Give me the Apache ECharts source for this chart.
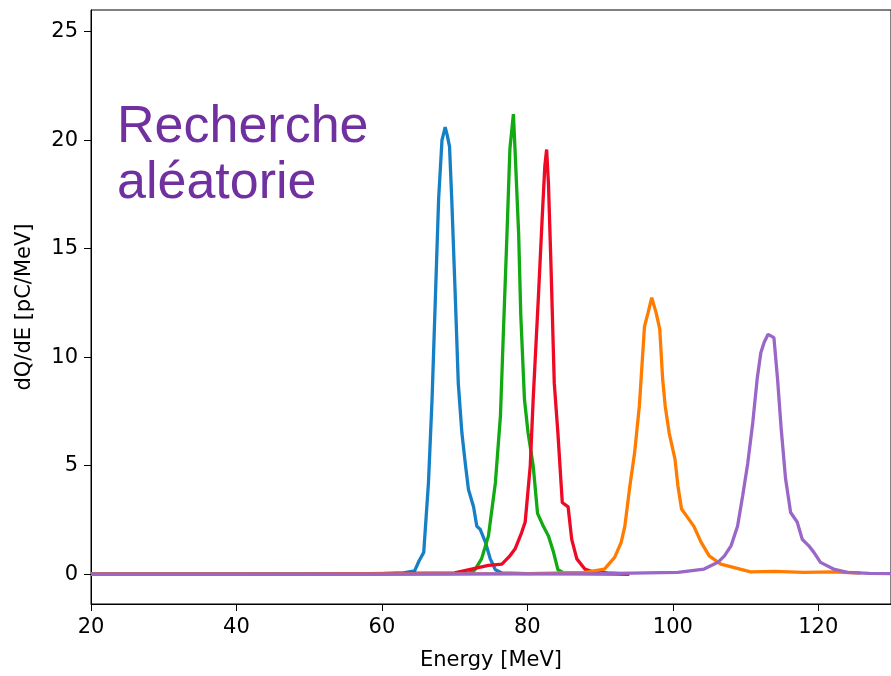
<!DOCTYPE html>
<html>
<head>
<meta charset="utf-8">
<script src="https://cdn.jsdelivr.net/npm/echarts@6/dist/echarts.min.js"></script>
<style>
  html, body { margin: 0; padding: 0; background: #fff; }
  #chart { width: 891px; height: 676px; }
</style>
</head>
<body>
<div id="chart"></div>
<script>
// spectra: energy [MeV] and dQ/dE [pC/MeV]
const blueE = [20, 40, 60, 63, 64.5, 65.1, 65.75, 66.4, 66.9, 67.35, 67.8, 68.26, 68.7, 69.0, 69.3, 69.6, 70.1, 70.5, 71.0, 71.5, 71.9, 72.6, 73.05, 73.5, 74.2, 74.9, 75.6, 76.5, 80, 90, 94]
const blueV = [0, 0, 0.02, 0.05, 0.15, 0.6, 1.0, 4.2, 8.1, 12.7, 17.3, 20.0, 20.6, 20.2, 19.7, 17.3, 12.7, 8.8, 6.5, 5.0, 3.9, 3.1, 2.2, 2.07, 1.5, 0.7, 0.2, 0.05, 0.02, 0.01, 0]

const greenE = [20, 50, 70, 72.0, 72.8, 73.7, 74.65, 75.6, 76.3, 76.7, 77.2, 77.6, 78.08, 78.3, 78.8, 79.1, 79.6, 80.1, 80.8, 81.4, 82.2, 82.9, 83.6, 84.2, 85, 90, 94]
const greenV = [0, 0, 0.02, 0.05, 0.2, 0.7, 1.76, 4.2, 7.3, 11.1, 15.7, 19.6, 21.2, 19.6, 15.7, 11.9, 8.06, 6.5, 5.0, 2.8, 2.2, 1.75, 1.0, 0.2, 0.05, 0.02, 0]

const redE = [20, 50, 70, 74.65, 76.5, 77.6, 78.3, 79.2, 79.7, 80.4, 80.8, 81.5, 82.05, 82.4, 82.65, 82.9, 83.25, 83.7, 84.2, 84.8, 85.6, 86.1, 86.8, 87.9, 89, 91, 94]
const redV = [0, 0, 0.05, 0.4, 0.46, 0.84, 1.15, 1.9, 2.4, 5.0, 8.06, 12.66, 16.5, 18.8, 19.57, 18.0, 14.2, 8.8, 6.5, 3.3, 3.1, 1.6, 0.7, 0.23, 0.1, 0.05, 0]

const orangeE = [20, 50, 80, 87.9, 90.6, 92.0, 92.9, 93.4, 94.1, 94.75, 95.4, 96.1, 96.6, 97.1, 97.7, 98.2, 98.6, 98.95, 99.5, 100.3, 100.7, 101.2, 102.05, 102.9, 103.9, 105.0, 106.6, 108.45, 110.7, 114, 118, 122, 125.8]
const orangeV = [0, 0, 0.02, 0.08, 0.23, 0.77, 1.46, 2.2, 4.07, 5.6, 7.75, 11.4, 12.05, 12.74, 12.05, 11.3, 9.0, 7.75, 6.5, 5.3, 4.07, 3.0, 2.6, 2.2, 1.46, 0.84, 0.46, 0.3, 0.1, 0.12, 0.08, 0.1, 0.05]

const purpleE = [20, 60, 90, 100.7, 104.3, 106.2, 107.1, 108.0, 108.9, 109.6, 110.3, 111.0, 111.6, 112.1, 112.55, 113.1, 113.9, 114.4, 114.9, 115.5, 116.2, 117.1, 117.8, 118.7, 119.4, 120.3, 122.1, 124.0, 127, 130]
const purpleV = [0, 0, 0.02, 0.08, 0.23, 0.54, 0.84, 1.3, 2.2, 3.6, 5.1, 7.0, 9.0, 10.2, 10.67, 11.05, 10.9, 9.0, 6.7, 4.4, 2.84, 2.4, 1.6, 1.3, 1.0, 0.54, 0.23, 0.08, 0.03, 0.02]

const xTicks = [20, 40, 60, 80, 100, 120]
const yTicks = [0, 5, 10, 15, 20, 25]

const zip = (xs, ys) => xs.map((x, i) => [x, ys[i]])

const chart = echarts.init(document.getElementById('chart'))

const line = (name, xs, ys, color) => ({
    name: name,
    type: 'line',
    data: zip(xs, ys),
    showSymbol: false,
    lineStyle: { color: color, width: 3.3 },
    itemStyle: { color: color }
})

const tickFont = { fontFamily: 'DejaVu Sans', fontSize: 21, color: '#000' }

const option = {
    animation: false,
    grid: {
        left: 91, top: 10, right: -3, bottom: 71,
        show: true, borderColor: '#000', borderWidth: 1
    },
    xAxis: {
        type: 'value',
        min: 20, max: 130,
        name: 'Energy [MeV]',
        nameLocation: 'middle',
        nameGap: 46,
        nameTextStyle: tickFont,
        splitLine: { show: false },
        axisLine: { onZero: false, lineStyle: { color: '#000' } },
        axisTick: { length: 7, lineStyle: { color: '#000' }, customValues: xTicks },
        axisLabel: Object.assign({ margin: 13, customValues: xTicks }, tickFont)
    },
    yAxis: {
        type: 'value',
        min: -1.38, max: 26,
        name: 'dQ/dE [pC/MeV]',
        nameLocation: 'middle',
        nameRotate: 90,
        nameGap: 56,
        nameTextStyle: tickFont,
        splitLine: { show: false },
        axisLine: { show: true, onZero: false, lineStyle: { color: '#000' } },
        axisTick: { show: true, length: 7, lineStyle: { color: '#000' }, customValues: yTicks },
        axisLabel: Object.assign({ margin: 13, customValues: yTicks }, tickFont)
    },
    graphic: [
        {
            type: 'text', left: 117, top: 102, z: 10,
            style: { text: 'Recherche', font: '52px "Liberation Sans"', fill: '#7030a0' }
        },
        {
            type: 'text', left: 117, top: 158, z: 10,
            style: { text: 'aléatorie', font: '52px "Liberation Sans"', fill: '#7030a0' }
        }
    ],
    series: [
        line('blue', blueE, blueV, '#1580c6'),
        line('green', greenE, greenV, '#12aa12'),
        line('red', redE, redV, '#ee0a24'),
        line('orange', orangeE, orangeV, '#ff7c00'),
        line('purple', purpleE, purpleV, '#9a66c8')
    ]
}

chart.setOption(option)

window.addEventListener('resize', () => {
    chart.resize()
})
</script>
</body>
</html>
